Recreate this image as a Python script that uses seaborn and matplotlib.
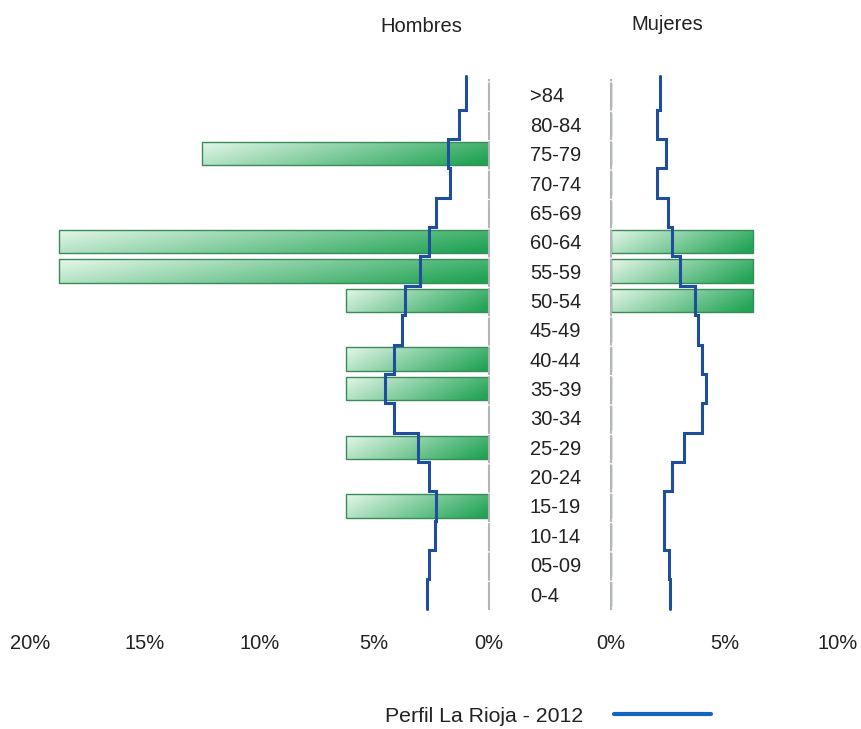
import numpy as np
import pandas as pd
import matplotlib
matplotlib.use("Agg")
import matplotlib.pyplot as plt
import seaborn as sns
from matplotlib.lines import Line2D

# Age groups, top to bottom
edades = [">84", "80-84", "75-79", "70-74", "65-69", "60-64", "55-59", "50-54", "45-49",
          "40-44", "35-39", "30-34", "25-29", "20-24", "15-19", "10-14", "05-09", "0-4"]

# Sample distribution (%)
hombres_muestra = [0, 0, 12.5, 0, 0, 18.75, 18.75, 6.25, 0,
                   6.25, 6.25, 0, 6.25, 0, 6.25, 0, 0, 0]
mujeres_muestra = [0, 0, 0, 0, 0, 6.25, 6.25, 6.25, 0,
                   0, 0, 0, 0, 0, 0, 0, 0, 0]

# Reference profile La Rioja 2012 (%)
hombres_rioja = [1.0, 1.3, 1.8, 1.7, 2.3, 2.6, 3.0, 3.65, 3.8,
                 4.15, 4.55, 4.15, 3.1, 2.6, 2.3, 2.35, 2.6, 2.7]
mujeres_rioja = [2.17, 2.03, 2.42, 2.03, 2.52, 2.69, 3.05, 3.7, 3.85,
                 4.0, 4.18, 4.0, 3.2, 2.67, 2.32, 2.35, 2.57, 2.61]

ticks_h = [20, 15, 10, 5, 0]
ticks_m = [0, 5, 10]

sns.set_style("white")
plt.rcParams["font.family"] = ["Liberation Sans", "DejaVu Sans"]
FS = 14.5

df = pd.DataFrame({"edad": edades, "h": hombres_muestra, "m": mujeres_muestra})

fig = plt.figure(figsize=(8.62, 7.29), dpi=100)
ax_h = fig.add_axes([30 / 862, 1 - 608.7 / 729, 459 / 862, 528.4 / 729])
ax_m = fig.add_axes([611 / 862, 1 - 608.7 / 729, 227 / 862, 528.4 / 729])

light = np.array([0.90, 0.97, 0.92])
dark = np.array([0.13, 0.64, 0.33])


def gradient_img():
    h = np.linspace(0, 1, 200)[None, :]
    v = np.linspace(0, 1, 40)[:, None]
    t = np.clip(0.1 + 0.8 * h + 0.25 * v - 0.1, 0, 1)
    return light[None, None, :] * (1 - t[..., None]) + dark[None, None, :] * t[..., None]


def draw_side(ax, col, perfil, flip):
    sns.barplot(data=df, x=col, y="edad", orient="h", ax=ax, width=0.8,
                color="#2ca25f", edgecolor="#3a8a5a", linewidth=1)
    img = gradient_img()
    for p in ax.patches:
        w = p.get_width()
        if w == 0:
            continue
        y0, hh = p.get_y(), p.get_height()
        ext = (w, 0, y0 + hh, y0) if flip else (0, w, y0 + hh, y0)
        im = ax.imshow(img, extent=ext, aspect="auto", origin="upper", zorder=0.9)
        im.set_clip_path(p)
        p.set_facecolor("none")
        p.set_zorder(1)
    pos = np.arange(len(edades))
    ys = np.column_stack([pos - 0.5, pos + 0.5]).ravel()
    ys[0] -= 0.15
    xs = np.repeat(perfil, 2)
    ax.plot(xs, ys, color="#1f4e9c", lw=2.2, zorder=3, solid_joinstyle="miter",
            clip_on=False)
    ax.set_ylim(len(edades) - 0.5, -0.5)
    ax.set_xlabel("")
    ax.set_ylabel("")
    for s in ax.spines.values():
        s.set_visible(False)


draw_side(ax_h, "h", hombres_rioja, True)
draw_side(ax_m, "m", mujeres_rioja, False)

ax_h.set_xlim(20, 0)
ax_h.set_xticks(ticks_h)
ax_h.set_xticklabels([f"{v}%" for v in ticks_h], fontsize=FS)
ax_m.set_xlim(0, 10)
ax_m.set_xticks(ticks_m)
ax_m.set_xticklabels([f"{v}%" for v in ticks_m], fontsize=FS)

for ax in (ax_h, ax_m):
    ax.tick_params(axis="x", length=0, pad=18, colors="#222222")

ax_h.yaxis.tick_right()
ax_h.set_yticks(range(len(edades)))
ax_h.set_yticklabels(edades, fontsize=FS)
ax_h.tick_params(axis="y", length=0, pad=29.5, colors="#222222")
ax_m.set_yticks([])

dash = (0, (12.5, 1.6))
ax_h.spines["right"].set_visible(True)
ax_h.spines["right"].set(color="#b5b5b5", linewidth=1.5, linestyle=dash)
ax_m.spines["left"].set_visible(True)
ax_m.spines["left"].set(color="#b5b5b5", linewidth=1.5, linestyle=dash)

fig.text(421 / 862, 1 - 27 / 729, "Hombres", ha="center", va="center", fontsize=FS, color="#222222")
fig.text(667 / 862, 1 - 24 / 729, "Mujeres", ha="center", va="center", fontsize=FS, color="#222222")

handle = Line2D([], [], color="#1565c0", lw=3)
fig.legend(handles=[handle], labels=["Perfil La Rioja - 2012"], loc="center",
           bbox_to_anchor=(548 / 862, 1 - 716 / 729), frameon=False, markerfirst=False,
           handlelength=4.6, handletextpad=1.45, fontsize=15.3, labelcolor="#222222")

fig.savefig("out.png", dpi=100)
